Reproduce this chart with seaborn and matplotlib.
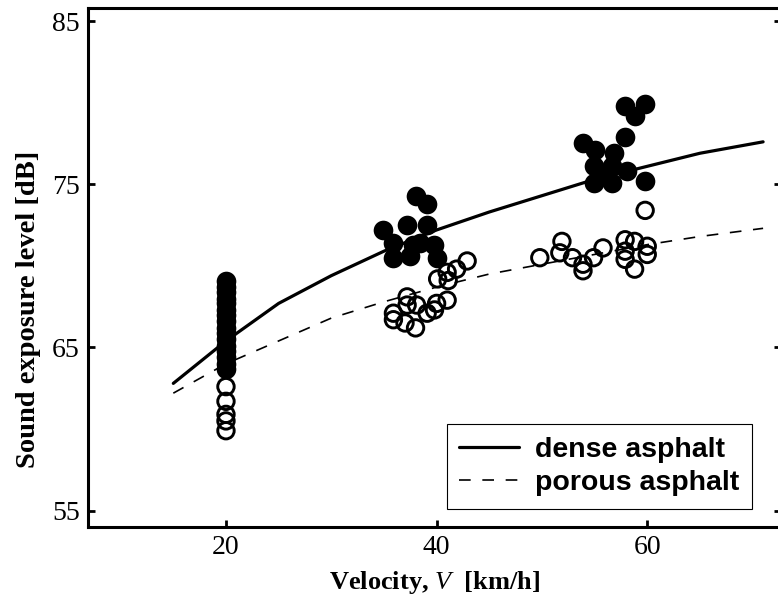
import numpy as np
import pandas as pd
import matplotlib
matplotlib.use("Agg")
import matplotlib.pyplot as plt
import seaborn as sns

# fitted curves
curve_v = [15, 20, 25, 30, 35, 40, 45, 50, 55, 60, 65, 71]
dense_curve = [62.8, 65.4, 67.7, 69.4, 70.9, 72.2, 73.3, 74.3, 75.3, 76.1, 76.9, 77.6]
porous_curve = [62.2, 64.0, 65.4, 66.8, 67.8, 68.7, 69.5, 70.1, 70.7, 71.3, 71.8, 72.3]

# measured points, dense asphalt (filled)
dense_v = [20] * 16 + [
    38.0, 39.1, 34.9, 37.2, 39.1, 35.9, 35.9, 37.5, 38.4, 39.8, 40.0, 37.8,
    57.9, 59.8, 58.8, 57.9, 53.9, 55.0, 56.8, 54.9, 56.7, 58.1, 54.9, 56.7, 59.8, 55.8]
dense_l = [69.1, 68.7, 68.4, 68.0, 67.7, 67.3, 67.0, 66.6, 66.2, 65.9, 65.5, 65.1,
           64.8, 64.4, 64.0, 63.7,
           74.3, 73.8, 72.2, 72.5, 72.5, 71.4, 70.5, 70.6, 71.4, 71.3, 70.5, 71.3,
           79.8, 79.9, 79.2, 77.9, 77.5, 77.1, 76.9, 76.1, 76.1, 75.8, 75.1, 75.1, 75.2, 75.5]

# measured points, porous asphalt (open)
porous_v = [20, 20, 20, 20, 20,
            42.9, 41.9, 41.0, 40.1, 41.1, 37.2, 37.2, 38.1, 40.0, 41.0, 35.9, 35.9,
            37.0, 39.1, 39.8, 38.0,
            59.8, 49.8, 51.9, 51.7, 52.9, 53.9, 53.9, 54.9, 55.8, 57.9, 58.8, 57.9,
            57.9, 60.0, 60.0, 58.8]
porous_l = [62.6, 61.7, 60.9, 60.5, 59.9,
            70.3, 69.8, 69.6, 69.2, 69.1, 68.1, 67.6, 67.6, 67.7, 67.9, 67.1, 66.7,
            66.5, 67.1, 67.3, 66.2,
            73.4, 70.5, 71.5, 70.8, 70.5, 70.1, 69.7, 70.5, 71.1, 71.6, 71.5, 70.9,
            70.4, 71.2, 70.7, 69.8]

x_ticks = [20, 40, 60]
y_ticks = [55, 65, 75, 85]

curves = pd.DataFrame({"V": curve_v, "dense": dense_curve, "porous": porous_curve})
pts_dense = pd.DataFrame({"V": dense_v, "L": dense_l})
pts_porous = pd.DataFrame({"V": porous_v, "L": porous_l})

sns.set_style("ticks")
plt.rcParams["font.family"] = ["Liberation Serif", "DejaVu Serif"]
plt.rcParams["mathtext.fontset"] = "custom"
plt.rcParams["mathtext.it"] = "Liberation Serif:italic"
plt.rcParams["text.color"] = "black"
plt.rcParams["axes.labelcolor"] = "black"
plt.rcParams["xtick.color"] = "black"
plt.rcParams["ytick.color"] = "black"

fig = plt.figure(figsize=(7.78, 5.98), dpi=100)
ax = fig.add_axes([88 / 778, 71 / 598, 693 / 778, 519 / 598])

sns.scatterplot(data=pts_porous, x="V", y="L", ax=ax, marker="o", s=140,
                facecolor="none", edgecolor="black", linewidth=2.1, zorder=3)
sns.scatterplot(data=pts_dense, x="V", y="L", ax=ax, marker="o", s=200,
                color="black", edgecolor="black", linewidth=0, zorder=4)
sns.lineplot(data=curves, x="V", y="dense", ax=ax, color="black", lw=2.3,
             label="dense asphalt", zorder=5)
sns.lineplot(data=curves, x="V", y="porous", ax=ax, color="black", lw=1.2,
             dashes=False, label="porous asphalt", zorder=5)
ax.lines[-1].set_dashes([7, 7])

ax.set_xlim(6.9, 72.7)
ax.set_ylim(54.0, 85.8)
ax.set_xticks(x_ticks)
ax.set_yticks(y_ticks)
ax.tick_params(direction="in", length=5, width=2, labelsize=20, pad=6,
               right=True, top=False, colors="black")
for s in ["left", "bottom", "top"]:
    ax.spines[s].set_linewidth(2.2)
    ax.spines[s].set_color("black")
ax.spines["right"].set_visible(False)

ax.set_xlabel(r"Velocity, $\mathit{V}$  [km/h]", fontsize=19, fontweight="bold", labelpad=6)
ax.set_ylabel("Sound exposure level [dB]", fontsize=20.5, fontweight="bold")
ax.yaxis.set_label_coords(-0.068, 0.42)

leg = ax.legend(loc="lower right", bbox_to_anchor=(0.958, 0.035), borderaxespad=0,
                frameon=True, fancybox=False, edgecolor="black", framealpha=1,
                handlelength=2.1, handletextpad=0.55, borderpad=0.45, labelspacing=0.25,
                prop={"family": "Liberation Sans", "weight": "bold", "size": 20.5})
leg.get_frame().set_linewidth(0.8)

plt.savefig("out.png", dpi=100)
